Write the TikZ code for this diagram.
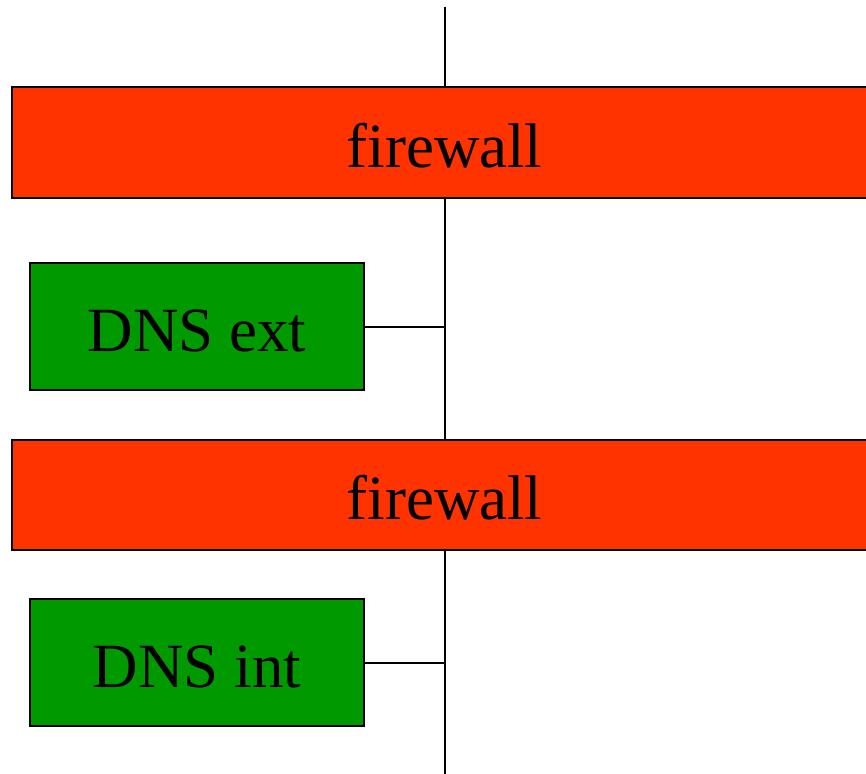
\documentclass[tikz,border=0pt]{standalone}
\usepackage{fontspec}
\setmainfont{Liberation Serif}
\definecolor{fwred}{HTML}{FF3300}
\definecolor{dnsgreen}{HTML}{009900}
\begin{document}
\begin{tikzpicture}[x=1pt,y=-1pt,
    muro/.style={draw,line width=2pt,fill=fwred,minimum width=865pt,minimum height=110pt,
                 text height=50pt,text depth=0pt,inner sep=0pt},
    server/.style={draw,line width=2pt,fill=dnsgreen,minimum width=334pt,minimum height=127pt,
                 text height=50pt,text depth=0pt,inner sep=0pt},
    filo/.style={line width=2pt}]
  \fontsize{63}{75}\selectfont
  \useasboundingbox (0,0) rectangle (866,773);

  % ---- nodi ----------------------------------------------------------------
  \node[muro]   (fw1)    at (444.5,142.5) {firewall};
  \node[server] (dnsext) at (197,326.5)   {DNS ext};
  \node[muro]   (fw2)    at (444.5,494.5) {firewall};
  \node[server] (dnsint) at (197,662.5)   {DNS int};
  \coordinate (top) at (444.5,7);
  \coordinate (bot) at (444.5,775);

  % ---- linee ---------------------------------------------------------------
  \draw[filo] (top) -- (fw1.north)
              (fw1.south) -- (fw2.north)
              (fw2.south) -- (bot)
              (dnsext.east) -- (dnsext.east -| fw1.south)
              (dnsint.east) -- (dnsint.east -| fw2.south);
\end{tikzpicture}
\end{document}
